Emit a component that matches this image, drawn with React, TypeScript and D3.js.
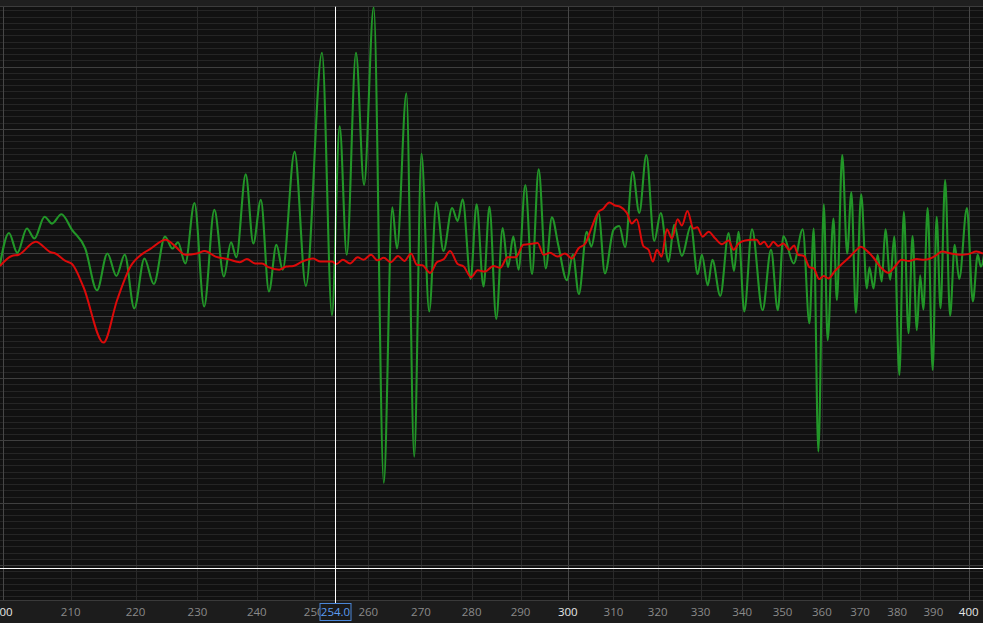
import React from 'react';
import * as d3 from 'd3';

// ---- data (frequency in Hz, level in dB) ----
const freqTickLabels = [200, 210, 220, 230, 240, 250, 260, 270, 280, 290, 300, 310, 320, 330, 340, 350, 360, 370, 380, 390, 400];
const brightFreqs = [200, 300, 400];

const greenFreq = [199.6, 200.9, 202.1, 203.5, 204.6, 206.1, 207.2, 208.6, 210.2, 212.2, 214.0, 215.6, 217.0, 218.3, 219.8, 221.4, 222.9, 224.7, 225.9, 226.8, 228.0, 229.5, 231.1, 232.8, 234.4, 235.6, 236.5, 238.1, 239.4, 240.7, 242.1, 243.4, 244.5, 246.6, 248.6, 251.5, 253.3, 254.7, 256.0, 257.7, 259.2, 261.0, 262.9, 264.5, 265.4, 267.2, 268.7, 270.1, 271.6, 273.0, 274.4, 276.1, 277.2, 278.2, 279.8, 281.0, 282.4, 283.6, 285.0, 286.3, 287.4, 288.5, 289.6, 291.0, 292.4, 293.8, 295.3, 296.6, 298.0, 299.8, 301.1, 302.4, 304.1, 305.1, 306.7, 308.1, 310.0, 311.3, 312.6, 314.3, 315.8, 317.4, 319.2, 320.7, 322.5, 323.8, 325.6, 327.7, 329.3, 330.3, 331.7, 332.8, 334.7, 336.7, 338.0, 339.1, 340.5, 342.4, 345.0, 347.1, 348.8, 350.2, 352.8, 355.1, 356.8, 357.9, 359.1, 360.5, 361.5, 363.0, 363.9, 365.3, 366.6, 367.7, 368.9, 370.3, 371.8, 372.5, 373.6, 374.7, 375.8, 376.8, 378.1, 379.2, 380.6, 381.8, 383.1, 384.2, 385.4, 386.3, 387.2, 388.4, 389.8, 390.9, 392.0, 393.3, 394.7, 396.0, 397.3, 399.5, 401.2, 402.6, 403.5, 405.0];
const greenLevel = [-1.8, 3.3, 0.1, 4.0, 2.4, 5.9, 4.8, 6.3, 3.8, 0.8, -5.9, 0.0, -3.6, -0.2, -8.8, -0.8, -4.9, 2.7, 0.8, 1.8, -1.6, 8.1, -8.5, 7.0, -3.7, 1.8, -0.6, 12.7, 1.6, 8.6, -6.1, 1.4, -2.6, 16.3, -5.2, 32.2, -9.9, 20.4, -0.2, 32.2, 11.0, 39.5, -36.8, 7.4, 0.8, 25.7, -32.6, 16.0, -9.3, 8.2, 0.4, 7.3, 5.2, 8.7, -4.1, 7.9, -5.3, 7.5, -10.5, 4.1, -2.2, 2.7, -2.6, 11.0, -3.3, 13.5, -2.4, 5.8, 1.2, -4.3, -0.2, -6.5, 3.5, 1.1, 6.5, -3.2, 3.8, 4.4, 1.0, 13.1, 6.5, 15.8, 2.0, 6.5, -1.3, 4.6, -0.4, 4.4, -3.3, -0.2, -5.1, -1.0, -6.8, 3.3, -2.8, 3.5, -9.3, 3.9, -9.1, 0.6, -9.1, 2.8, -1.6, 3.9, -11.2, 4.0, -31.8, 7.9, -13.9, 5.6, -7.5, 15.8, 0.0, 9.8, -9.5, 9.5, -5.6, -2.2, -5.6, -0.2, -4.5, 3.9, -4.2, 2.7, -19.5, 6.7, -12.8, 2.8, -12.3, -3.5, -9.0, 7.3, -18.7, 5.9, -8.8, 11.8, -10.0, 1.4, -4.1, 7.3, -7.7, -0.2, -2.1, 2.0];

const redFreq = [199.6, 201.3, 202.3, 204.8, 207.0, 207.7, 209.2, 210.2, 211.9, 215.0, 217.1, 219.2, 221.3, 222.3, 224.8, 226.4, 228.0, 229.9, 231.2, 233.0, 235.1, 237.1, 238.3, 239.7, 240.9, 242.0, 243.9, 245.1, 246.4, 247.9, 249.9, 251.2, 253.3, 254.1, 255.3, 256.6, 258.0, 259.1, 260.5, 261.7, 262.9, 264.2, 265.6, 266.8, 268.1, 269.2, 270.3, 271.8, 273.1, 274.5, 275.7, 277.2, 278.4, 279.9, 281.2, 282.7, 284.4, 285.8, 287.3, 289.0, 290.6, 292.7, 293.6, 294.8, 296.2, 297.8, 299.4, 300.9, 302.3, 303.8, 305.0, 306.7, 307.6, 309.1, 310.3, 311.5, 313.0, 314.1, 315.2, 316.7, 317.9, 318.9, 319.8, 320.9, 322.1, 323.3, 324.6, 325.6, 326.9, 328.3, 329.2, 330.5, 331.9, 333.5, 335.1, 336.7, 337.9, 339.1, 340.7, 342.4, 343.6, 344.4, 345.4, 346.5, 347.7, 348.9, 350.2, 351.7, 352.9, 353.9, 355.4, 356.8, 357.9, 359.3, 360.5, 361.7, 363.4, 365.0, 367.5, 369.1, 370.2, 371.7, 373.5, 375.5, 377.6, 379.5, 381.2, 383.2, 385.4, 387.3, 389.1, 390.5, 392.4, 395.0, 397.5, 399.9, 402.2, 404.1];
const redLevel = [-2.0, -0.4, -0.2, 1.9, 0.2, 0.0, -1.2, -1.7, -5.3, -14.3, -7.5, -2.1, 0.1, 0.7, 2.2, 1.1, -0.2, 0.0, 0.4, -0.5, -0.9, -1.4, -0.9, -1.6, -1.6, -2.2, -2.6, -2.1, -2.0, -1.3, -0.8, -1.3, -1.3, -1.7, -1.0, -1.6, -0.6, -1.0, -0.2, -1.1, -0.7, -1.4, -0.4, -1.2, 0.0, -1.8, -1.9, -3.1, -1.4, -0.9, 0.4, -1.7, -2.1, -3.8, -2.7, -2.9, -2.0, -2.3, -0.6, -0.6, 1.4, 1.6, 1.7, -0.2, 0.1, -0.5, 0.0, -0.8, 0.8, 1.6, 3.8, 6.7, 7.1, 8.2, 7.7, 7.5, 6.5, 4.8, 5.5, 1.2, 0.6, -1.3, 0.6, -0.5, 3.9, 2.4, 5.5, 4.5, 6.8, 4.0, 4.2, 2.7, 3.5, 2.4, 1.5, 2.1, 0.6, 1.6, 2.1, 2.2, 2.2, 1.5, 1.9, 1.0, 1.9, 1.2, 1.6, 0.6, 1.3, -0.2, -0.4, -2.2, -2.4, -4.1, -3.6, -4.0, -2.8, -1.8, -0.4, 0.6, 1.1, 0.5, -0.6, -2.2, -3.1, -2.0, -1.0, -1.2, -0.9, -1.0, -0.8, -0.4, 0.3, 0.0, -0.2, -0.1, 0.3, 0.0];

const cursorFreq = 254.0;
const cursorLevel = -50.4;

const W = 983;
const H = 623;

export default function App() {
  const plotTop = 6.7;
  const plotBottom = 600;
  const x = d3.scaleLog().domain([199.61, 404.13]).range([0, W]);
  const y = d3.scaleLinear().domain([-55.6, 39.6]).range([plotBottom, plotTop]);

  const line = d3
    .line<[number, number]>()
    .x((d) => x(d[0]))
    .y((d) => y(d[1]))
    .curve(d3.curveMonotoneX);

  const green = greenFreq.map((f, i) => [f, greenLevel[i]] as [number, number]);
  const red = redFreq.map((f, i) => [f, redLevel[i]] as [number, number]);

  const levels = d3.range(-55, 40, 1);
  const crisp = (v: number) => Math.round(v) + 0.5;

  const cx = Math.floor(x(cursorFreq)) + 0.5;
  const cy = crisp(y(cursorLevel));

  return (
    <div style={{ position: 'fixed', left: 0, top: 0, width: W, height: H, background: '#111111' }}>
      <svg width={W} height={H} style={{ display: 'block' }}>
        <defs>
          <clipPath id="plotClip">
            <rect x={0} y={plotTop} width={W} height={plotBottom - plotTop} />
          </clipPath>
        </defs>
        {/* top strip */}
        <rect x={0} y={0} width={W} height={6} fill="#1f1f1f" />
        <rect x={0} y={plotTop} width={W} height={plotBottom - plotTop} fill="#111111" />
        {/* horizontal grid */}
        {levels.filter((v) => v % 10 !== 0).map((v) => (
          <line key={'hm' + v} x1={0} x2={W} y1={crisp(y(v))} y2={crisp(y(v))} stroke="#252525" strokeWidth={1} />
        ))}
        {/* vertical grid */}
        {freqTickLabels.map((f) => (
          <line
            key={'v' + f}
            x1={crisp(x(f))}
            x2={crisp(x(f))}
            y1={plotTop}
            y2={plotBottom}
            stroke={brightFreqs.includes(f) ? '#474747' : '#2a2a2a'}
            strokeWidth={1}
          />
        ))}
        {levels.filter((v) => v % 10 === 0).map((v) => (
          <line key={'hM' + v} x1={0} x2={W} y1={crisp(y(v))} y2={crisp(y(v))} stroke="#3f3f3f" strokeWidth={1} />
        ))}
        <line x1={0} x2={W} y1={6.5} y2={6.5} stroke="#3c3c3c" strokeWidth={1} />

        {/* series */}
        <g clipPath="url(#plotClip)">
          <path d={line(green) || ''} fill="none" stroke="#229628" strokeWidth={2.1} strokeLinejoin="round" />
          <path d={line(red) || ''} fill="none" stroke="#dc0a0a" strokeWidth={2} strokeLinejoin="round" />
        </g>

        {/* axis area */}
        <rect x={0} y={plotBottom} width={W} height={H - plotBottom} fill="#1c1c1c" />
        <line x1={0} x2={W} y1={plotBottom + 0.5} y2={plotBottom + 0.5} stroke="#3a3a3a" strokeWidth={1} />
        {freqTickLabels.map((f) => (
          <text
            key={'t' + f}
            x={x(f)}
            y={616}
            textAnchor="middle"
            fontFamily="'Open Sans', 'Noto Sans', sans-serif"
            fontSize={11.5}
            fill={brightFreqs.includes(f) ? '#e6e6e6' : '#8a8a8a'}
          >
            {f}
          </text>
        ))}

        {/* cursor */}
        <line x1={0} x2={W} y1={cy} y2={cy} stroke="#ffffff" strokeWidth={1} />
        <line x1={cx} x2={cx} y1={plotTop} y2={plotBottom + 3} stroke="#ffffff" strokeWidth={1} />
        <rect x={cx - 15.5} y={603.5} width={31} height={17} fill="#1a1a1a" stroke="#4a86d8" strokeWidth={1} />
        <text
          x={cx}
          y={616}
          textAnchor="middle"
          fontFamily="'Open Sans', 'Noto Sans', sans-serif"
          fontSize={11.5}
          fill="#5c9cf0"
        >
          {cursorFreq.toFixed(1)}
        </text>
      </svg>
    </div>
  );
}
